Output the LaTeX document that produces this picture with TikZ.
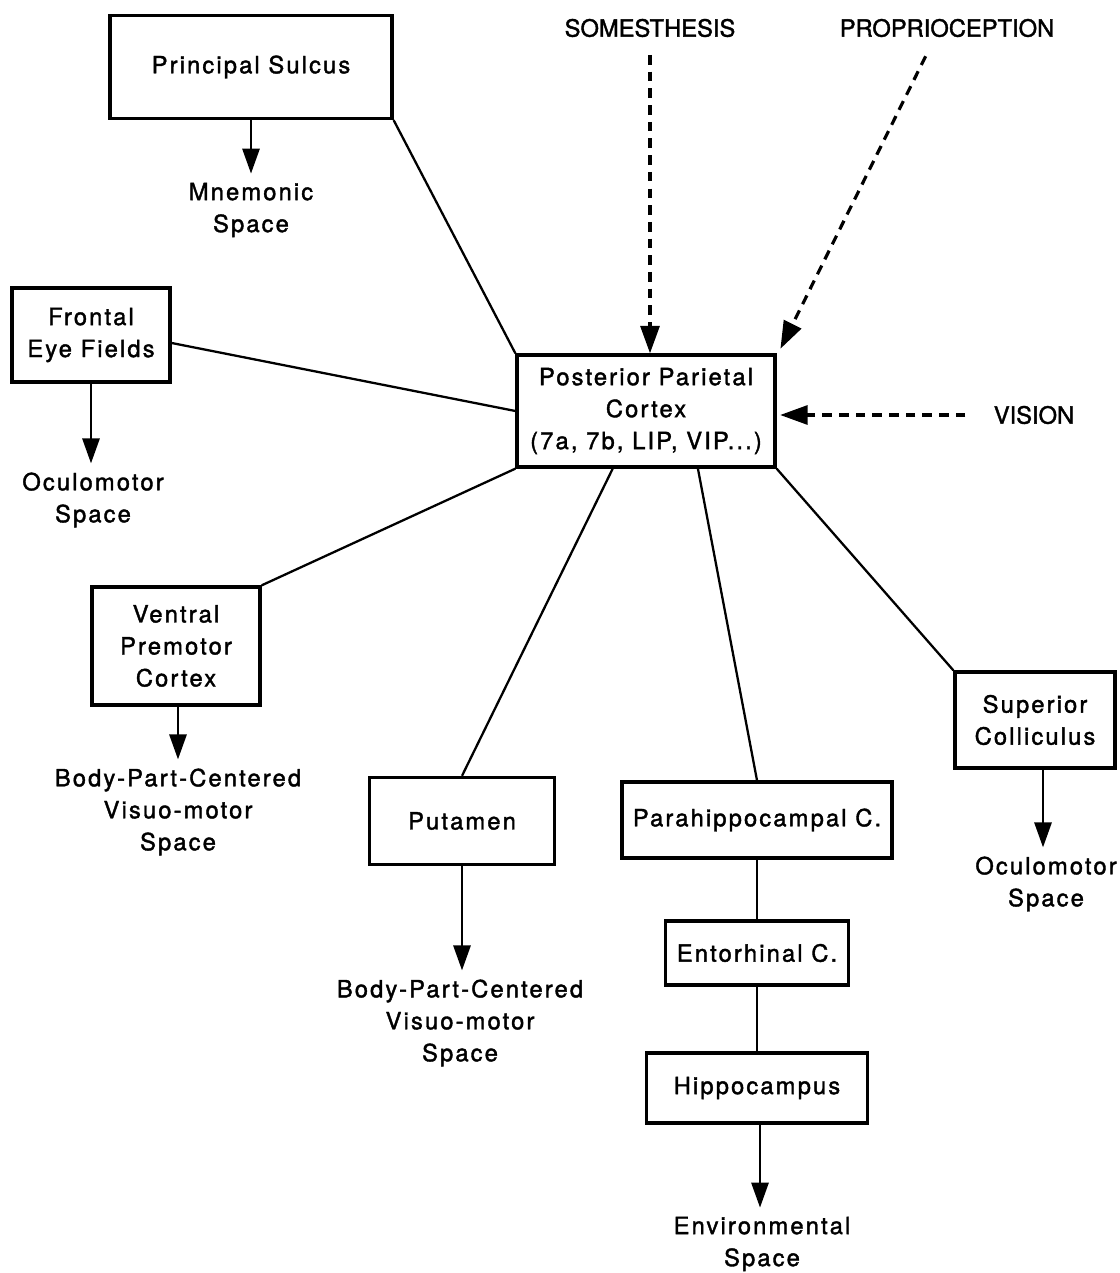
\documentclass[tikz,border=0pt]{standalone}
\usepackage{fontspec}
\setmainfont[FakeBold=1.6]{TeX Gyre Heros}
\newfontfamily\spacedfont[LetterSpace=9,FakeBold=1.6]{TeX Gyre Heros}
\usetikzlibrary{positioning,calc,arrows.meta}

\begin{document}
\begin{tikzpicture}[
	x=0.02cm, y=-0.02cm,
	box/.style = {rectangle, draw, line width=1.9pt, inner sep=0pt, align=center,
		font=\spacedfont\fontsize{13.5}{18.2}\selectfont},
	txt/.style = {inner sep=0pt, align=center,
		font=\spacedfont\fontsize{13.5}{18.2}\selectfont},
	sense/.style = {inner sep=0pt, font=\fontsize{13.5}{16}\selectfont},
	link/.style = {line width=1.3pt},
	arr/.style = {line width=1.6pt, -{Triangle[length=5mm,width=3.4mm]}, shorten >=5pt},
	dasharr/.style = {line width=1.8pt, dash pattern=on 5.5pt off 4pt,
		-{Triangle[length=5.5mm,width=3.8mm]}},
	]
	\useasboundingbox (0,0) rectangle (1119,1273);

	% cortical areas
	\node[box, minimum width=5.64cm, minimum height=2.06cm] (sulcus) at (251,67) {Principal Sulcus};
	\node[box, minimum width=3.16cm, minimum height=1.88cm] (fef) at (91,335) {Frontal\\Eye Fields};
	\node[box, minimum width=5.16cm, minimum height=2.24cm] (ppc) at (646,411) {Posterior Parietal\\Cortex\\(7a, 7b, LIP, VIP...)};
	\node[box, minimum width=3.36cm, minimum height=2.36cm] (vpm) at (176,646) {Ventral\\Premotor\\Cortex};
	\node[box, minimum width=3.70cm, minimum height=1.74cm] (put) at (462,821) {Putamen};
	\node[box, minimum width=5.40cm, minimum height=1.52cm] (para) at (757,820) {Parahippocampal C.};
	\node[box, minimum width=3.66cm, minimum height=1.28cm] (ento) at (757,953) {Entorhinal C.};
	\node[box, minimum width=4.42cm, minimum height=1.40cm] (hippo) at (757,1088) {Hippocampus};
	\node[box, minimum width=3.20cm, minimum height=1.92cm] (sc) at (1035,720) {Superior\\Colliculus};

	% spaces
	\node[txt] (mnem) at (251,210) {Mnemonic\\Space};
	\node[txt] (ocu1) at (93,500) {Oculomotor\\Space};
	\node[txt] (body1) at (178,812) {Body-Part-Centered\\Visuo-motor\\Space};
	\node[txt] (body2) at (460,1023) {Body-Part-Centered\\Visuo-motor\\Space};
	\node[txt] (env) at (762,1244) {Environmental\\Space};
	\node[txt] (ocu2) at (1046,884) {Oculomotor\\Space};

	% inputs
	\node[sense] (soma) at (650,28) {SOMESTHESIS};
	\node[sense] (prop) at (947,28) {PROPRIOCEPTION};
	\node[sense] (vis) at (1034,415) {VISION};

	\draw[link] (sulcus.south east) -- (ppc.north west);
	\draw[link] ($(fef.east)+(0,8)$) -- (ppc.west);
	\draw[link] (vpm.north east) -- (ppc.south west);
	\draw[link] (put.north) -- (ppc.240);
	\draw[link] (para.north) -- (ppc.312);
	\draw[link] (sc.north west) -- (ppc.south east);
	\draw[link] (para.south) -- (ento.north);
	\draw[link] (ento.south) -- (hippo.north);

	\draw[arr] (sulcus.south) -- (mnem.north);
	\draw[arr] (fef.south) -- (fef.south |- ocu1.north);
	\draw[arr] ($(vpm.south)+(2,0)$) -- ($(vpm.south |- body1.north)+(2,0)$);
	\draw[arr] (put.south) -- (put.south |- body2.north);
	\draw[arr] ($(hippo.south)+(3,0)$) -- ($(hippo.south |- env.north)+(3,0)$);
	\draw[arr] ($(sc.south)+(8,0)$) -- ($(sc.south |- ocu2.north)+(8,0)$);

	\draw[dasharr, shorten <=10pt] (soma.south) -- (soma.south |- ppc.north);
	\draw[dasharr, shorten <=12pt, shorten >=1pt] ($(prop.south)+(-12,0)$) -- ($(ppc.north east)+(3,-3)$);
	\draw[dasharr, shorten <=16pt, shorten >=2pt] (vis.west) -- (vis.west -| ppc.east);
\end{tikzpicture}
\end{document}
